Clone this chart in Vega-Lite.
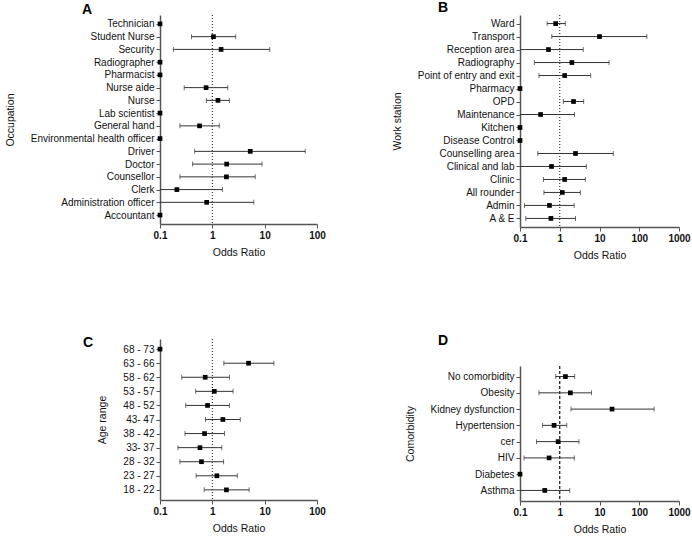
{
  "$schema": "https://vega.github.io/schema/vega-lite/v6.json",
  "padding": {"left": 5, "top": 0, "right": 0, "bottom": 0},
  "bounds": "full",
  "spacing": 66,
  "datasets": {
    "ref": [{"ref": 1}],
    "occ": [
      {"cat": "Technician", "or": 0.1, "lo": null, "hi": null},
      {"cat": "Student Nurse", "or": 1.05, "lo": 0.40, "hi": 2.8},
      {"cat": "Security", "or": 1.47, "lo": 0.18, "hi": 12.5},
      {"cat": "Radiographer", "or": 0.1, "lo": null, "hi": null},
      {"cat": "Pharmacist", "or": 0.1, "lo": null, "hi": null},
      {"cat": "Nurse aide", "or": 0.76, "lo": 0.29, "hi": 1.97},
      {"cat": "Nurse", "or": 1.28, "lo": 0.77, "hi": 2.12},
      {"cat": "Lab scientist", "or": 0.1, "lo": null, "hi": null},
      {"cat": "General hand", "or": 0.57, "lo": 0.24, "hi": 1.36},
      {"cat": "Environmental health officer", "or": 0.1, "lo": null, "hi": null},
      {"cat": "Driver", "or": 5.3, "lo": 0.46, "hi": 59.6},
      {"cat": "Doctor", "or": 1.88, "lo": 0.42, "hi": 8.9},
      {"cat": "Counsellor", "or": 1.86, "lo": 0.24, "hi": 6.6},
      {"cat": "Clerk", "or": 0.21, "lo": 0.05, "hi": 1.56},
      {"cat": "Administration officer", "or": 0.78, "lo": 0.05, "hi": 6.2},
      {"cat": "Accountant", "or": 0.1, "lo": null, "hi": null}
    ],
    "ws": [
      {"cat": "Ward", "or": 0.79, "lo": 0.48, "hi": 1.38},
      {"cat": "Transport", "or": 10, "lo": 0.63, "hi": 155},
      {"cat": "Reception area", "or": 0.52, "lo": 0.05, "hi": 3.9},
      {"cat": "Radiography", "or": 2.02, "lo": 0.23, "hi": 17.4},
      {"cat": "Point of entry and exit", "or": 1.33, "lo": 0.30, "hi": 6.0},
      {"cat": "Pharmacy", "or": 0.1, "lo": null, "hi": null},
      {"cat": "OPD", "or": 2.22, "lo": 1.23, "hi": 4.0},
      {"cat": "Maintenance", "or": 0.33, "lo": 0.05, "hi": 2.35},
      {"cat": "Kitchen", "or": 0.1, "lo": null, "hi": null},
      {"cat": "Disease Control", "or": 0.1, "lo": null, "hi": null},
      {"cat": "Counselling area", "or": 2.49, "lo": 0.28, "hi": 22.2},
      {"cat": "Clinical and lab", "or": 0.62, "lo": 0.05, "hi": 4.67},
      {"cat": "Clinic", "or": 1.33, "lo": 0.39, "hi": 4.4},
      {"cat": "All rounder", "or": 1.16, "lo": 0.40, "hi": 3.3},
      {"cat": "Admin", "or": 0.55, "lo": 0.13, "hi": 2.31},
      {"cat": "A & E", "or": 0.60, "lo": 0.14, "hi": 2.49}
    ],
    "age": [
      {"cat": "68 - 73", "or": 0.1, "lo": null, "hi": null},
      {"cat": "63 - 66", "or": 4.92, "lo": 1.66, "hi": 15.0},
      {"cat": "58 - 62", "or": 0.73, "lo": 0.26, "hi": 2.12},
      {"cat": "53 - 57", "or": 1.09, "lo": 0.48, "hi": 2.49},
      {"cat": "48 - 52", "or": 0.81, "lo": 0.31, "hi": 2.12},
      {"cat": "43- 47", "or": 1.59, "lo": 0.74, "hi": 3.42},
      {"cat": "38 - 42", "or": 0.71, "lo": 0.30, "hi": 1.71},
      {"cat": "33- 37", "or": 0.58, "lo": 0.22, "hi": 1.52},
      {"cat": "28 - 32", "or": 0.62, "lo": 0.24, "hi": 1.64},
      {"cat": "23 - 27", "or": 1.22, "lo": 0.49, "hi": 3.0},
      {"cat": "18 - 22", "or": 1.86, "lo": 0.70, "hi": 5.06}
    ],
    "com": [
      {"cat": "No comorbidity", "or": 1.39, "lo": 0.79, "hi": 2.37},
      {"cat": "Obesity", "or": 1.85, "lo": 0.30, "hi": 6.3},
      {"cat": "Kidney dysfunction", "or": 20.7, "lo": 1.92, "hi": 237},
      {"cat": "Hypertension", "or": 0.72, "lo": 0.37, "hi": 1.50},
      {"cat": "cer", "or": 0.91, "lo": 0.26, "hi": 3.04},
      {"cat": "HIV", "or": 0.54, "lo": 0.126, "hi": 2.33},
      {"cat": "Diabetes", "or": 0.1, "lo": null, "hi": null},
      {"cat": "Asthma", "or": 0.42, "lo": 0.05, "hi": 1.78}
    ]
  },
  "hconcat": [
    {
      "vconcat": [
        {
          "width": 157, "height": 209,
          "title": {"text": "A", "anchor": "start", "frame": "group", "dx": -78, "offset": -13, "fontSize": 14, "fontWeight": "bold", "baseline": "alphabetic", "color": "#000"},
          "data": {"name": "occ"},
          "layer": [
            {"data": {"name": "ref"}, "mark": {"type": "rule", "strokeDash": [1, 2], "color": "#111", "strokeWidth": 1},
             "encoding": {"x": {"field": "ref", "type": "quantitative", "scale": {"type": "log", "domain": [0.1, 100]}, "axis": {"values": [0.1, 1, 10, 100]}, "title": "Odds Ratio"}}},
            {"mark": {"type": "rule", "color": "#333", "strokeWidth": 1, "clip": true},
             "encoding": {"x": {"field": "lo", "type": "quantitative", "scale": {"type": "log", "domain": [0.1, 100]}, "axis": {"values": [0.1, 1, 10, 100]}, "title": "Odds Ratio"}, "x2": {"field": "hi"},
               "y": {"field": "cat", "type": "nominal", "scale": {"type": "point", "padding": 0.7, "domain": ["Technician","Student Nurse","Security","Radiographer","Pharmacist","Nurse aide","Nurse","Lab scientist","General hand","Environmental health officer","Driver","Doctor","Counsellor","Clerk","Administration officer","Accountant"]}, "title": "Occupation"}}},
            {"mark": {"type": "tick", "color": "#333", "thickness": 1, "size": 5, "orient": "vertical", "clip": true},
             "encoding": {"x": {"field": "lo", "type": "quantitative", "scale": {"type": "log", "domain": [0.1, 100]}, "axis": {"values": [0.1, 1, 10, 100]}, "title": "Odds Ratio"},
               "y": {"field": "cat", "type": "nominal", "scale": {"type": "point", "padding": 0.7, "domain": ["Technician","Student Nurse","Security","Radiographer","Pharmacist","Nurse aide","Nurse","Lab scientist","General hand","Environmental health officer","Driver","Doctor","Counsellor","Clerk","Administration officer","Accountant"]}, "title": "Occupation"}}},
            {"mark": {"type": "tick", "color": "#333", "thickness": 1, "size": 5, "orient": "vertical", "clip": true},
             "encoding": {"x": {"field": "hi", "type": "quantitative", "scale": {"type": "log", "domain": [0.1, 100]}, "axis": {"values": [0.1, 1, 10, 100]}, "title": "Odds Ratio"},
               "y": {"field": "cat", "type": "nominal", "scale": {"type": "point", "padding": 0.7, "domain": ["Technician","Student Nurse","Security","Radiographer","Pharmacist","Nurse aide","Nurse","Lab scientist","General hand","Environmental health officer","Driver","Doctor","Counsellor","Clerk","Administration officer","Accountant"]}, "title": "Occupation"}}},
            {"mark": {"type": "point", "shape": "square", "filled": true, "color": "#000", "size": 22, "opacity": 1},
             "encoding": {"x": {"field": "or", "type": "quantitative", "scale": {"type": "log", "domain": [0.1, 100]}, "axis": {"values": [0.1, 1, 10, 100]}, "title": "Odds Ratio"},
               "y": {"field": "cat", "type": "nominal", "scale": {"type": "point", "padding": 0.7, "domain": ["Technician","Student Nurse","Security","Radiographer","Pharmacist","Nurse aide","Nurse","Lab scientist","General hand","Environmental health officer","Driver","Doctor","Counsellor","Clerk","Administration officer","Accountant"]}, "title": "Occupation"}}}
          ]
        },
        {
          "width": 157, "height": 161,
          "title": {"text": "C", "anchor": "start", "frame": "group", "dx": -77, "offset": -22, "fontSize": 14, "fontWeight": "bold", "baseline": "alphabetic", "color": "#000"},
          "data": {"name": "age"},
          "layer": [
            {"data": {"name": "ref"}, "mark": {"type": "rule", "strokeDash": [1, 2], "color": "#111", "strokeWidth": 1},
             "encoding": {"x": {"field": "ref", "type": "quantitative", "scale": {"type": "log", "domain": [0.1, 100]}, "axis": {"values": [0.1, 1, 10, 100]}, "title": "Odds Ratio"}}},
            {"mark": {"type": "rule", "color": "#333", "strokeWidth": 1, "clip": true},
             "encoding": {"x": {"field": "lo", "type": "quantitative", "scale": {"type": "log", "domain": [0.1, 100]}, "axis": {"values": [0.1, 1, 10, 100]}, "title": "Odds Ratio"}, "x2": {"field": "hi"},
               "y": {"field": "cat", "type": "nominal", "scale": {"type": "point", "padding": 0.72, "domain": ["68 - 73","63 - 66","58 - 62","53 - 57","48 - 52","43- 47","38 - 42","33- 37","28 - 32","23 - 27","18 - 22"]}, "title": "Age range"}}},
            {"mark": {"type": "tick", "color": "#333", "thickness": 1, "size": 5, "orient": "vertical", "clip": true},
             "encoding": {"x": {"field": "lo", "type": "quantitative", "scale": {"type": "log", "domain": [0.1, 100]}, "axis": {"values": [0.1, 1, 10, 100]}, "title": "Odds Ratio"},
               "y": {"field": "cat", "type": "nominal", "scale": {"type": "point", "padding": 0.72, "domain": ["68 - 73","63 - 66","58 - 62","53 - 57","48 - 52","43- 47","38 - 42","33- 37","28 - 32","23 - 27","18 - 22"]}, "title": "Age range"}}},
            {"mark": {"type": "tick", "color": "#333", "thickness": 1, "size": 5, "orient": "vertical", "clip": true},
             "encoding": {"x": {"field": "hi", "type": "quantitative", "scale": {"type": "log", "domain": [0.1, 100]}, "axis": {"values": [0.1, 1, 10, 100]}, "title": "Odds Ratio"},
               "y": {"field": "cat", "type": "nominal", "scale": {"type": "point", "padding": 0.72, "domain": ["68 - 73","63 - 66","58 - 62","53 - 57","48 - 52","43- 47","38 - 42","33- 37","28 - 32","23 - 27","18 - 22"]}, "title": "Age range"}}},
            {"mark": {"type": "point", "shape": "square", "filled": true, "color": "#000", "size": 22, "opacity": 1},
             "encoding": {"x": {"field": "or", "type": "quantitative", "scale": {"type": "log", "domain": [0.1, 100]}, "axis": {"values": [0.1, 1, 10, 100]}, "title": "Odds Ratio"},
               "y": {"field": "cat", "type": "nominal", "scale": {"type": "point", "padding": 0.72, "domain": ["68 - 73","63 - 66","58 - 62","53 - 57","48 - 52","43- 47","38 - 42","33- 37","28 - 32","23 - 27","18 - 22"]}, "title": "Age range"}}}
          ]
        }
      ],
      "spacing": 115,
      "bounds": "flush"
    },
    {
      "vconcat": [
        {
          "width": 159, "height": 212,
          "title": {"text": "B", "anchor": "start", "frame": "group", "dx": -82, "offset": -11, "fontSize": 14, "fontWeight": "bold", "baseline": "alphabetic", "color": "#000"},
          "data": {"name": "ws"},
          "layer": [
            {"data": {"name": "ref"}, "mark": {"type": "rule", "strokeDash": [1, 2], "color": "#111", "strokeWidth": 1},
             "encoding": {"x": {"field": "ref", "type": "quantitative", "scale": {"type": "log", "domain": [0.1, 1000]}, "axis": {"values": [0.1, 1, 10, 100, 1000]}, "title": "Odds Ratio"}}},
            {"mark": {"type": "rule", "color": "#333", "strokeWidth": 1, "clip": true},
             "encoding": {"x": {"field": "lo", "type": "quantitative", "scale": {"type": "log", "domain": [0.1, 1000]}, "axis": {"values": [0.1, 1, 10, 100, 1000]}, "title": "Odds Ratio"}, "x2": {"field": "hi"},
               "y": {"field": "cat", "type": "nominal", "scale": {"type": "point", "padding": 0.66, "domain": ["Ward","Transport","Reception area","Radiography","Point of entry and exit","Pharmacy","OPD","Maintenance","Kitchen","Disease Control","Counselling area","Clinical and lab","Clinic","All rounder","Admin","A & E"]}, "title": "Work station"}}},
            {"mark": {"type": "tick", "color": "#333", "thickness": 1, "size": 5, "orient": "vertical", "clip": true},
             "encoding": {"x": {"field": "lo", "type": "quantitative", "scale": {"type": "log", "domain": [0.1, 1000]}, "axis": {"values": [0.1, 1, 10, 100, 1000]}, "title": "Odds Ratio"},
               "y": {"field": "cat", "type": "nominal", "scale": {"type": "point", "padding": 0.66, "domain": ["Ward","Transport","Reception area","Radiography","Point of entry and exit","Pharmacy","OPD","Maintenance","Kitchen","Disease Control","Counselling area","Clinical and lab","Clinic","All rounder","Admin","A & E"]}, "title": "Work station"}}},
            {"mark": {"type": "tick", "color": "#333", "thickness": 1, "size": 5, "orient": "vertical", "clip": true},
             "encoding": {"x": {"field": "hi", "type": "quantitative", "scale": {"type": "log", "domain": [0.1, 1000]}, "axis": {"values": [0.1, 1, 10, 100, 1000]}, "title": "Odds Ratio"},
               "y": {"field": "cat", "type": "nominal", "scale": {"type": "point", "padding": 0.66, "domain": ["Ward","Transport","Reception area","Radiography","Point of entry and exit","Pharmacy","OPD","Maintenance","Kitchen","Disease Control","Counselling area","Clinical and lab","Clinic","All rounder","Admin","A & E"]}, "title": "Work station"}}},
            {"mark": {"type": "point", "shape": "square", "filled": true, "color": "#000", "size": 22, "opacity": 1},
             "encoding": {"x": {"field": "or", "type": "quantitative", "scale": {"type": "log", "domain": [0.1, 1000]}, "axis": {"values": [0.1, 1, 10, 100, 1000]}, "title": "Odds Ratio"},
               "y": {"field": "cat", "type": "nominal", "scale": {"type": "point", "padding": 0.66, "domain": ["Ward","Transport","Reception area","Radiography","Point of entry and exit","Pharmacy","OPD","Maintenance","Kitchen","Disease Control","Counselling area","Clinical and lab","Clinic","All rounder","Admin","A & E"]}, "title": "Work station"}}}
          ]
        },
        {
          "width": 159, "height": 135,
          "title": {"text": "D", "anchor": "start", "frame": "group", "dx": -82, "offset": 6, "fontSize": 14, "fontWeight": "bold", "baseline": "alphabetic", "color": "#000"},
          "data": {"name": "com"},
          "layer": [
            {"data": {"name": "ref"}, "mark": {"type": "rule", "strokeDash": [3, 2], "color": "#111", "strokeWidth": 1.2},
             "encoding": {"x": {"field": "ref", "type": "quantitative", "scale": {"type": "log", "domain": [0.1, 1000]}, "axis": {"values": [0.1, 1, 10, 100, 1000]}, "title": "Odds Ratio"}}},
            {"mark": {"type": "rule", "color": "#333", "strokeWidth": 1, "clip": true},
             "encoding": {"x": {"field": "lo", "type": "quantitative", "scale": {"type": "log", "domain": [0.1, 1000]}, "axis": {"values": [0.1, 1, 10, 100, 1000]}, "title": "Odds Ratio"}, "x2": {"field": "hi"},
               "y": {"field": "cat", "type": "nominal", "scale": {"type": "point", "padding": 0.65, "domain": ["No comorbidity","Obesity","Kidney dysfunction","Hypertension","cer","HIV","Diabetes","Asthma"]}, "title": "Comorbidity"}}},
            {"mark": {"type": "tick", "color": "#333", "thickness": 1, "size": 5, "orient": "vertical", "clip": true},
             "encoding": {"x": {"field": "lo", "type": "quantitative", "scale": {"type": "log", "domain": [0.1, 1000]}, "axis": {"values": [0.1, 1, 10, 100, 1000]}, "title": "Odds Ratio"},
               "y": {"field": "cat", "type": "nominal", "scale": {"type": "point", "padding": 0.65, "domain": ["No comorbidity","Obesity","Kidney dysfunction","Hypertension","cer","HIV","Diabetes","Asthma"]}, "title": "Comorbidity"}}},
            {"mark": {"type": "tick", "color": "#333", "thickness": 1, "size": 5, "orient": "vertical", "clip": true},
             "encoding": {"x": {"field": "hi", "type": "quantitative", "scale": {"type": "log", "domain": [0.1, 1000]}, "axis": {"values": [0.1, 1, 10, 100, 1000]}, "title": "Odds Ratio"},
               "y": {"field": "cat", "type": "nominal", "scale": {"type": "point", "padding": 0.65, "domain": ["No comorbidity","Obesity","Kidney dysfunction","Hypertension","cer","HIV","Diabetes","Asthma"]}, "title": "Comorbidity"}}},
            {"mark": {"type": "point", "shape": "square", "filled": true, "color": "#000", "size": 22, "opacity": 1},
             "encoding": {"x": {"field": "or", "type": "quantitative", "scale": {"type": "log", "domain": [0.1, 1000]}, "axis": {"values": [0.1, 1, 10, 100, 1000]}, "title": "Odds Ratio"},
               "y": {"field": "cat", "type": "nominal", "scale": {"type": "point", "padding": 0.65, "domain": ["No comorbidity","Obesity","Kidney dysfunction","Hypertension","cer","HIV","Diabetes","Asthma"]}, "title": "Comorbidity"}}}
          ]
        }
      ],
      "spacing": 139,
      "bounds": "flush"
    }
  ],
  "config": {
    "font": "Liberation Sans",
    "background": "#ffffff",
    "view": {"stroke": null},
    "axis": {"grid": false, "domainColor": "#555", "domainWidth": 1.5, "tickColor": "#555", "tickWidth": 1, "tickSize": 4, "labelColor": "#111", "labelFontSize": 10, "titleFontSize": 10.5, "titleFontWeight": "normal", "titleColor": "#111"},
    "axisX": {"labelFontWeight": "bold", "labelPadding": 2, "titlePadding": 7, "format": "~g", "labelFlush": false},
    "axisY": {"labelPadding": 2, "titlePadding": 15, "labelLimit": 0}
  }
}
